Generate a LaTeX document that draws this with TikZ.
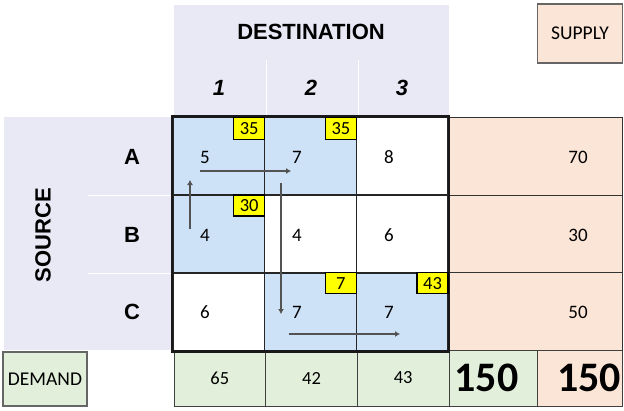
\documentclass[tikz,border=0pt]{standalone}
\usepackage{fontspec}
\setmainfont{Carlito}
\newfontfamily\arialfont{Liberation Sans}
\usepackage{tikz}
\usetikzlibrary{arrows.meta,positioning,calc}

\definecolor{lavender}{HTML}{E9E9F5}
\definecolor{cellblue}{HTML}{CDE1F7}
\definecolor{peach}{HTML}{FBE5D6}
\definecolor{mint}{HTML}{E2EFDA}
\definecolor{tagyellow}{HTML}{FFFF00}

\begin{document}
\begin{tikzpicture}[x=1pt, y=-1pt,
  cell/.style={rectangle, draw=black!85, line width=1.6pt, minimum width=91.7pt, minimum height=77.7pt, inner sep=0pt},
  side/.style={rectangle, draw=black!80, line width=0.8pt, fill=peach, minimum width=173pt, minimum height=77.7pt, inner sep=0pt},
  total/.style={rectangle, draw=black!75, line width=0.8pt, minimum height=56pt, inner sep=0pt, font=\fontsize{18.5}{20}\selectfont},
  tag/.style={rectangle, fill=tagyellow, draw=black, line width=1.5pt, minimum width=31pt, minimum height=22pt, inner sep=0pt, font=\fontsize{18.5}{20}\selectfont},
  cost/.style={font=\fontsize{19}{21}\selectfont},
  big/.style={font=\bfseries\fontsize{42}{44}\selectfont},
  head/.style={font=\arialfont\bfseries\fontsize{22}{24}\selectfont},
  label/.style={rectangle, draw=black!60, line width=1.2pt, inner sep=0pt, font=\fontsize{19.5}{21}\selectfont},
  route/.style={draw=gray!65!black, line width=2pt},
]
\useasboundingbox (0,0) rectangle (624,410);

% header backgrounds
\fill[lavender] (174,5) rectangle (449,117);
\fill[lavender] (4,117) rectangle (172,350);
\draw[white, line width=1pt] (266,60)--(266,117);
\draw[white, line width=1pt] (358,60)--(358,117);
\draw[white, line width=1pt] (88,195)--(172,195);
\draw[white, line width=1pt] (88,273)--(172,273);

\node[head] (dest) at (311,32) {DESTINATION};
\node[head, font=\arialfont\bfseries\itshape\fontsize{22}{24}\selectfont] (d1) at (219,88) {1};
\node[head, font=\arialfont\bfseries\itshape\fontsize{22}{24}\selectfont] (d2) at (311,88) {2};
\node[head, font=\arialfont\bfseries\itshape\fontsize{22}{24}\selectfont] (d3) at (402,88) {3};

\node[head, rotate=90] (src) at (43,235) {SOURCE};
\node[head] (sa) at (132,157) {A};
\node[head] (sb) at (132,235) {B};
\node[head] (sc) at (132,312) {C};

\node[label, fill=peach, minimum width=85pt, minimum height=59pt] (supply) at (580,33.5) {SUPPLY};
\node[label, fill=mint, minimum width=84pt, minimum height=54pt] (demand) at (45,379) {DEMAND};

% supply column
\node[side] (ra) at (535.5,156.2) {};
\node[side] (rb) at (535.5,233.9) {};
\node[side] (rc) at (535.5,311.6) {};
\node[cost] (va) at (578,157) {70};
\node[cost] (vb) at (578,235) {30};
\node[cost] (vc) at (578,312) {50};

% demand row
\node[total, fill=mint, minimum width=91.7pt] (t1) at (219.8,378) {65};
\node[total, fill=mint, minimum width=91.7pt] (t2) at (311.5,378) {42};
\node[total, fill=mint, minimum width=91.7pt] (t3) at (403.2,378) {43};
\node[total, fill=mint, minimum width=88pt] (t4) at (493,378) {};
\node[total, fill=peach, minimum width=85pt] (t5) at (579.5,378) {};
\node[big] (sumd) at (486.5,378) {150};
\node[big] (sums) at (589,378) {150};

% cells
\node[cell, fill=cellblue] (a1) at (218.8,156.2) {};
\node[cell, fill=cellblue] (a2) at (310.5,156.2) {};
\node[cell, fill=white] (a3) at (402.2,156.2) {};
\node[cell, fill=cellblue] (b1) at (218.8,233.9) {};
\node[cell, fill=white] (b2) at (310.5,233.9) {};
\node[cell, fill=white] (b3) at (402.2,233.9) {};
\node[cell, fill=white] (c1) at (218.8,311.6) {};
\node[cell, fill=cellblue] (c2) at (310.5,311.6) {};
\node[cell, fill=cellblue] (c3) at (402.2,311.6) {};
\draw[black!90, line width=2.6pt] (a1.north west) rectangle (c3.south east);

\node[cost] (ka1) at (205,157) {5};
\node[cost] (ka2) at (297,157) {7};
\node[cost] (ka3) at (389,157) {8};
\node[cost] (kb1) at (205,235) {4};
\node[cost] (kb2) at (297,235) {4};
\node[cost] (kb3) at (389,235) {6};
\node[cost] (kc1) at (205,312) {6};
\node[cost] (kc2) at (297,312) {7};
\node[cost] (kc3) at (389,312) {7};

\node[tag, anchor=north east] (qa1) at (a1.north east) {35};
\node[tag, anchor=north east] (qa2) at (a2.north east) {35};
\node[tag, anchor=north east, minimum height=21pt] (qb1) at (b1.north east) {30};
\node[tag, anchor=north east, minimum height=21pt] (qc2) at (c2.north east) {7};
\node[tag, anchor=north east, minimum height=21pt] (qc3) at (c3.north east) {43};

% loop of the route
\coordinate (up0) at (190,229);
\coordinate (up1) at (190,180);
\coordinate (rt0) at (200,171);
\coordinate (rt1) at (291,171);
\coordinate (dn0) at (281,183);
\coordinate (dn1) at (281,314);
\coordinate (lo0) at (289,334);
\coordinate (lo1) at (400,334);

\draw[route, -{Latex[length=5pt,width=6pt]}] (up0)--(up1);
\draw[route, -{Latex[length=5pt,width=6pt]}] (rt0)--(rt1);
\draw[route, -{Latex[length=5pt,width=6pt]}] (dn0)--(dn1);
\draw[route, -{Latex[length=5pt,width=6pt]}] (lo0)--(lo1);
\end{tikzpicture}
\end{document}
